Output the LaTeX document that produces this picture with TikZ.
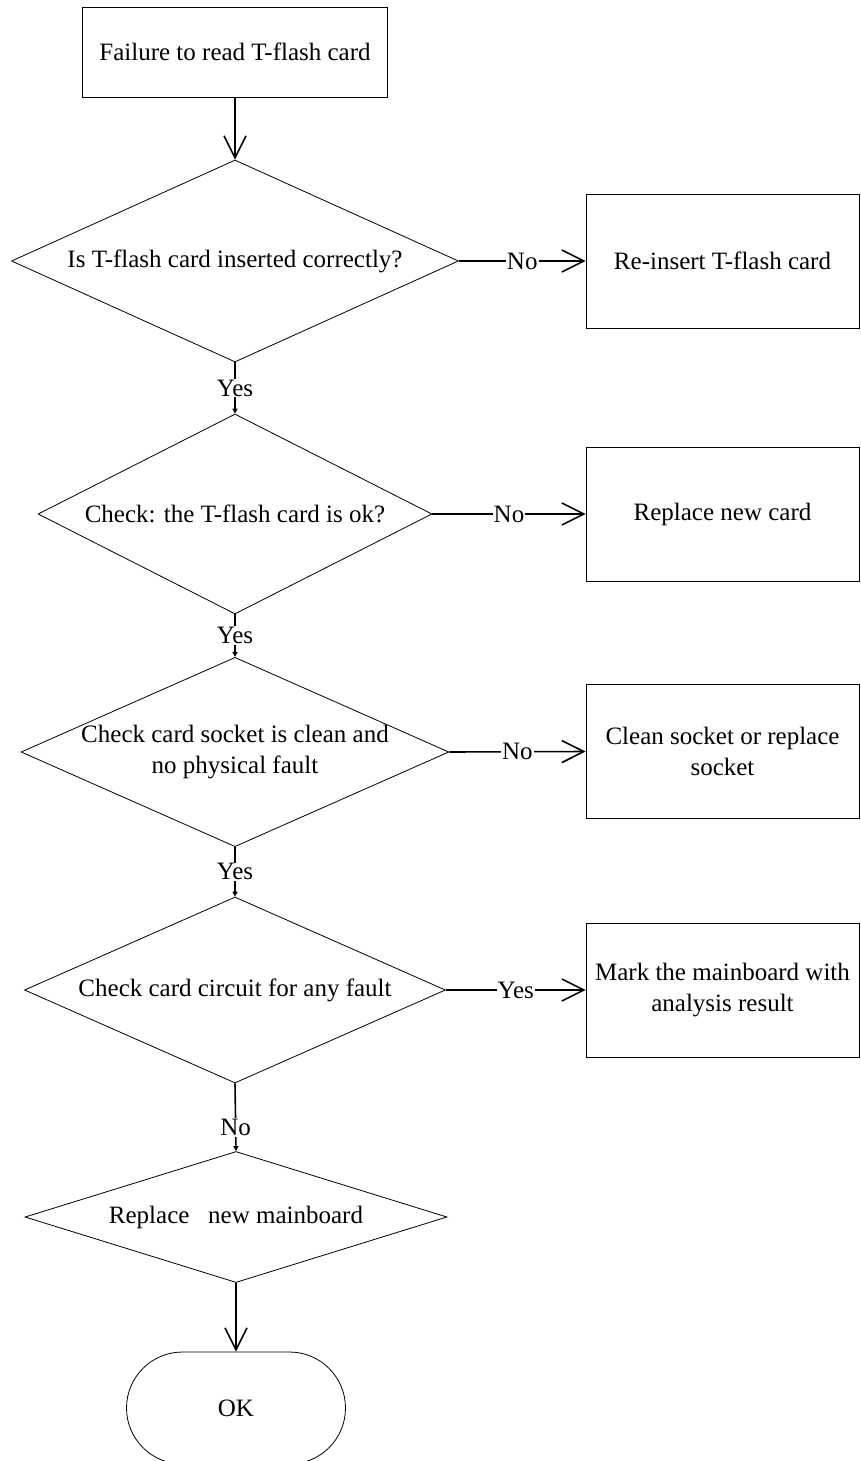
\documentclass[tikz,border=0pt]{standalone}
\usepackage{fontspec}
\setmainfont{Liberation Serif}
\usetikzlibrary{shapes}
\usetikzlibrary{arrows.meta}
\tikzset{
	flownode/.style = {
		align=center,
		inner sep=0pt,
		text centered,
		font=\fontsize{25}{30.5}\selectfont,
		draw=black,
		line width=0.8pt
	},
	node_start/.style = {
		flownode,
		rectangle,
		minimum width=305pt,
		minimum height=90pt
	},
	node_box/.style = {
		flownode,
		rectangle,
		minimum width=273pt,
		minimum height=134pt
	},
	node_dec/.style = {
		flownode,
		diamond
	},
	node_ok/.style = {
		flownode,
		rectangle,
		rounded corners=56pt,
		minimum width=219pt,
		minimum height=112pt
	},
	node_lbl/.style = {
		font=\fontsize{25}{30.5}\selectfont,
		fill=white,
		inner sep=1pt
	},
	edge_short/.style = {
		-{Triangle[length=5pt,width=5pt]}
	},
}

\begin{document}
\begin{tikzpicture}[x=1pt, y=-1pt, ->, >={Straight Barb[length=22pt,width=22pt]}, line width=1.6pt]
\useasboundingbox (0,0) rectangle (860,1461);
% main column
\node [node_start] (start) at (235,52) {Failure to read T-flash card};
\node [node_dec, minimum width=447pt, minimum height=202pt, aspect=2.21] (insert) at (235,261) {Is T-flash card inserted correctly?};
\node [node_dec, minimum width=394pt, minimum height=200pt, aspect=1.97] (cardok) at (235,514) {Check: the T-flash card is ok?};
\node [node_dec, minimum width=422pt, minimum height=187pt, aspect=2.26] (socket) at (235,752) {Check card socket is clean and\\no physical fault};
\node [node_dec, minimum width=421pt, minimum height=186pt, aspect=2.26] (circuit) at (235,990) {Check card circuit for any fault};
\node [node_dec, minimum width=422pt, minimum height=131pt, aspect=3.22] (mainboard) at (236,1217) {Replace\ \ \ new mainboard};
\node [node_ok] (ok) at (236,1408) {OK};
% right column
\node [node_box] (reinsert) at (722.5,261) {Re-insert T-flash card};
\node [node_box] (newcard) at (722.5,514) {Replace new card};
\node [node_box] (clean) at (722.5,751.5) {Clean socket or replace\\socket};
\node [node_box] (mark) at (722.5,990) {Mark the mainboard with\\analysis result};
% connectors
\draw (start.south) -- (insert.north);
\draw (insert.east) -- node[node_lbl] {No} (reinsert.west);
\draw (cardok.east) -- node[node_lbl] {No} (newcard.west);
\draw (socket.east) -- node[node_lbl] {No} (clean.west);
\draw (circuit.east) -- node[node_lbl] {Yes} (mark.west);
\draw [edge_short] (insert.south) -- node[node_lbl] {Yes} (cardok.north);
\draw [edge_short] (cardok.south) -- node[node_lbl] {Yes} (socket.north);
\draw [edge_short] (socket.south) -- node[node_lbl] {Yes} (circuit.north);
\draw [edge_short] (circuit.south) -- node[node_lbl, pos=0.65] {No} (mainboard.north);
\draw (mainboard.south) -- (ok.north);
\end{tikzpicture}
\end{document}
